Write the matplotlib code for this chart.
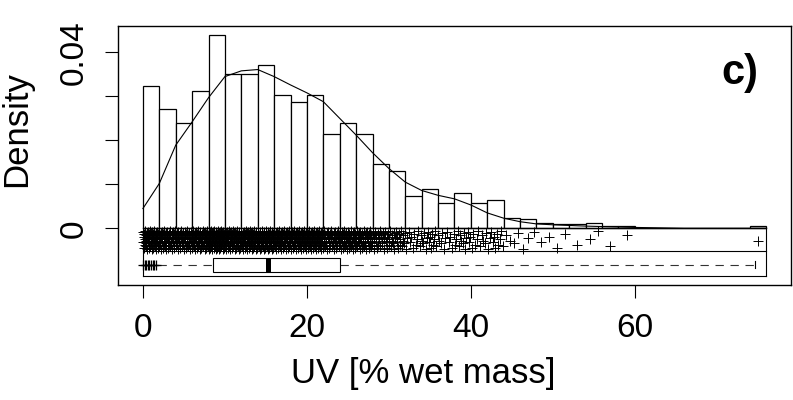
import numpy as np
import matplotlib
matplotlib.use("Agg")
from matplotlib import pyplot as plt
from matplotlib.patches import Rectangle

plt.rcParams['font.family'] = ['Liberation Sans', 'DejaVu Sans']

# histogram: bins of width 2 from 0 to 76, density per bin
bin_left = np.arange(0, 76, 2)
dens = [0.0324, 0.0271, 0.0240, 0.0313, 0.0439, 0.0350, 0.0350, 0.0371,
        0.0302, 0.0288, 0.0302, 0.0214, 0.0240, 0.0214, 0.0147, 0.0131,
        0.0074, 0.0089, 0.0058, 0.0080, 0.0058, 0.0064, 0.0024, 0.0021,
        0.0011, 0.0010, 0.0009, 0.0011, 0.0006, 0.0006, 0, 0, 0, 0, 0, 0, 0,
        0.0006]

# kernel density curve
curve_x = [0, 2, 4, 6, 8, 10, 12, 14, 16, 18, 20, 22, 24, 26, 28, 30, 32, 34,
           36, 38, 40, 42, 44, 46, 48, 50, 54, 60, 66, 76]
curve_y = [0.0045, 0.0102, 0.0189, 0.0242, 0.0297, 0.0345, 0.0358, 0.0361,
           0.0345, 0.0326, 0.0308, 0.0288, 0.0250, 0.0212, 0.0172, 0.0136,
           0.0105, 0.0086, 0.0075, 0.0067, 0.0053, 0.0035, 0.0023, 0.0015,
           0.0010, 0.0008, 0.0005, 0.0002, 0.0, 0.0]

# boxplot stats
q1, med, q3 = 8.5, 15.3, 24.0
whisk_hi = 74.6
low_pts = [0, 0.2, 0.4, 0.6, 0.8, 1.0, 1.2, 1.4, 1.6]

n_obs = 830
jitter = [-0.0008, -0.0031, -0.0019, -0.0044, -0.0012, -0.0037, -0.0024,
          -0.0005, -0.0040, -0.0016, -0.0028, -0.0034, -0.0010, -0.0046,
          -0.0021]

# strip points from the bin counts, spread evenly inside each bin
sx = []
for left, d in zip(bin_left, dens):
    k = int(round(d * 2 * n_obs))
    if k > 0:
        sx.extend(left + (np.arange(k) + 0.5) * 2 / k)
sx = np.array(sx)
sy = np.resize(jitter, len(sx))

fig = plt.figure(figsize=(7.93, 4.0), dpi=100)
ax = fig.add_axes([118 / 793, 115 / 400, 673 / 793, 259 / 400])

ax.bar(bin_left, dens, width=2, align='edge', color='white',
       edgecolor='black', linewidth=0.9, zorder=2)
ax.plot(curve_x, curve_y, color='black', lw=0.8, zorder=3)

# frame of the strip + box area
strip_lo = -0.0051
box_lo = -0.01084
ax.plot([0, 76], [strip_lo, strip_lo], color='black', lw=0.8)
ax.plot([0, 76], [box_lo, box_lo], color='black', lw=0.8)
ax.plot([0, 0], [0, box_lo], color='black', lw=0.8)
ax.plot([76, 76], [0, box_lo], color='black', lw=0.8)
ax.plot([0, 76], [0, 0], color='black', lw=1.0, zorder=4)

ax.plot(sx, sy, '+', color='black', ms=7, mew=0.7, zorder=5)

# boxplot
bc = -0.00834
bh = 0.00318
ax.add_patch(Rectangle((q1, bc - bh / 2), q3 - q1, bh, facecolor='white',
                       edgecolor='black', lw=0.8, zorder=3))
ax.plot([med, med], [bc - bh / 2, bc + bh / 2], color='black', lw=3.6,
        solid_capstyle='butt', zorder=4)
ax.plot([0, q1], [bc, bc], color='#333333', lw=0.8, dashes=(7.5, 6))
ax.plot([q3, whisk_hi], [bc, bc], color='#333333', lw=0.8, dashes=(7.5, 6))
ax.plot([whisk_hi, whisk_hi], [bc - bh / 4, bc + bh / 4], color='black', lw=0.8)
ax.plot(low_pts, [bc] * len(low_pts), '+', color='black', ms=7, mew=0.9)

ax.set_xlim(-3.04, 79.04)
ax.set_ylim(-0.01289, 0.0460)
ax.set_xticks([0, 20, 40, 60])
ax.set_xticklabels(['0', '20', '40', '60'], fontsize=24)
ax.set_yticks([0, 0.01, 0.02, 0.03, 0.04])
ax.set_yticklabels(['0', '', '', '', '0.04'], fontsize=24, rotation=90,
                   va='center')
ax.tick_params(length=9.5, width=0.8, pad=11)
for s in ax.spines.values():
    s.set_linewidth(1.0)

fig.text(423 / 793, 1 - 374 / 400, 'UV [% wet mass]', fontsize=25,
         ha='center', va='center')
fig.text(17 / 793, 1 - 129 / 400, 'Density', fontsize=25, rotation=90,
         ha='center', va='center')
ax.text(0.924, 0.82, 'c)', transform=ax.transAxes, fontsize=30,
        fontweight='bold', ha='center', va='center')

fig.savefig('out.png', dpi=100)
